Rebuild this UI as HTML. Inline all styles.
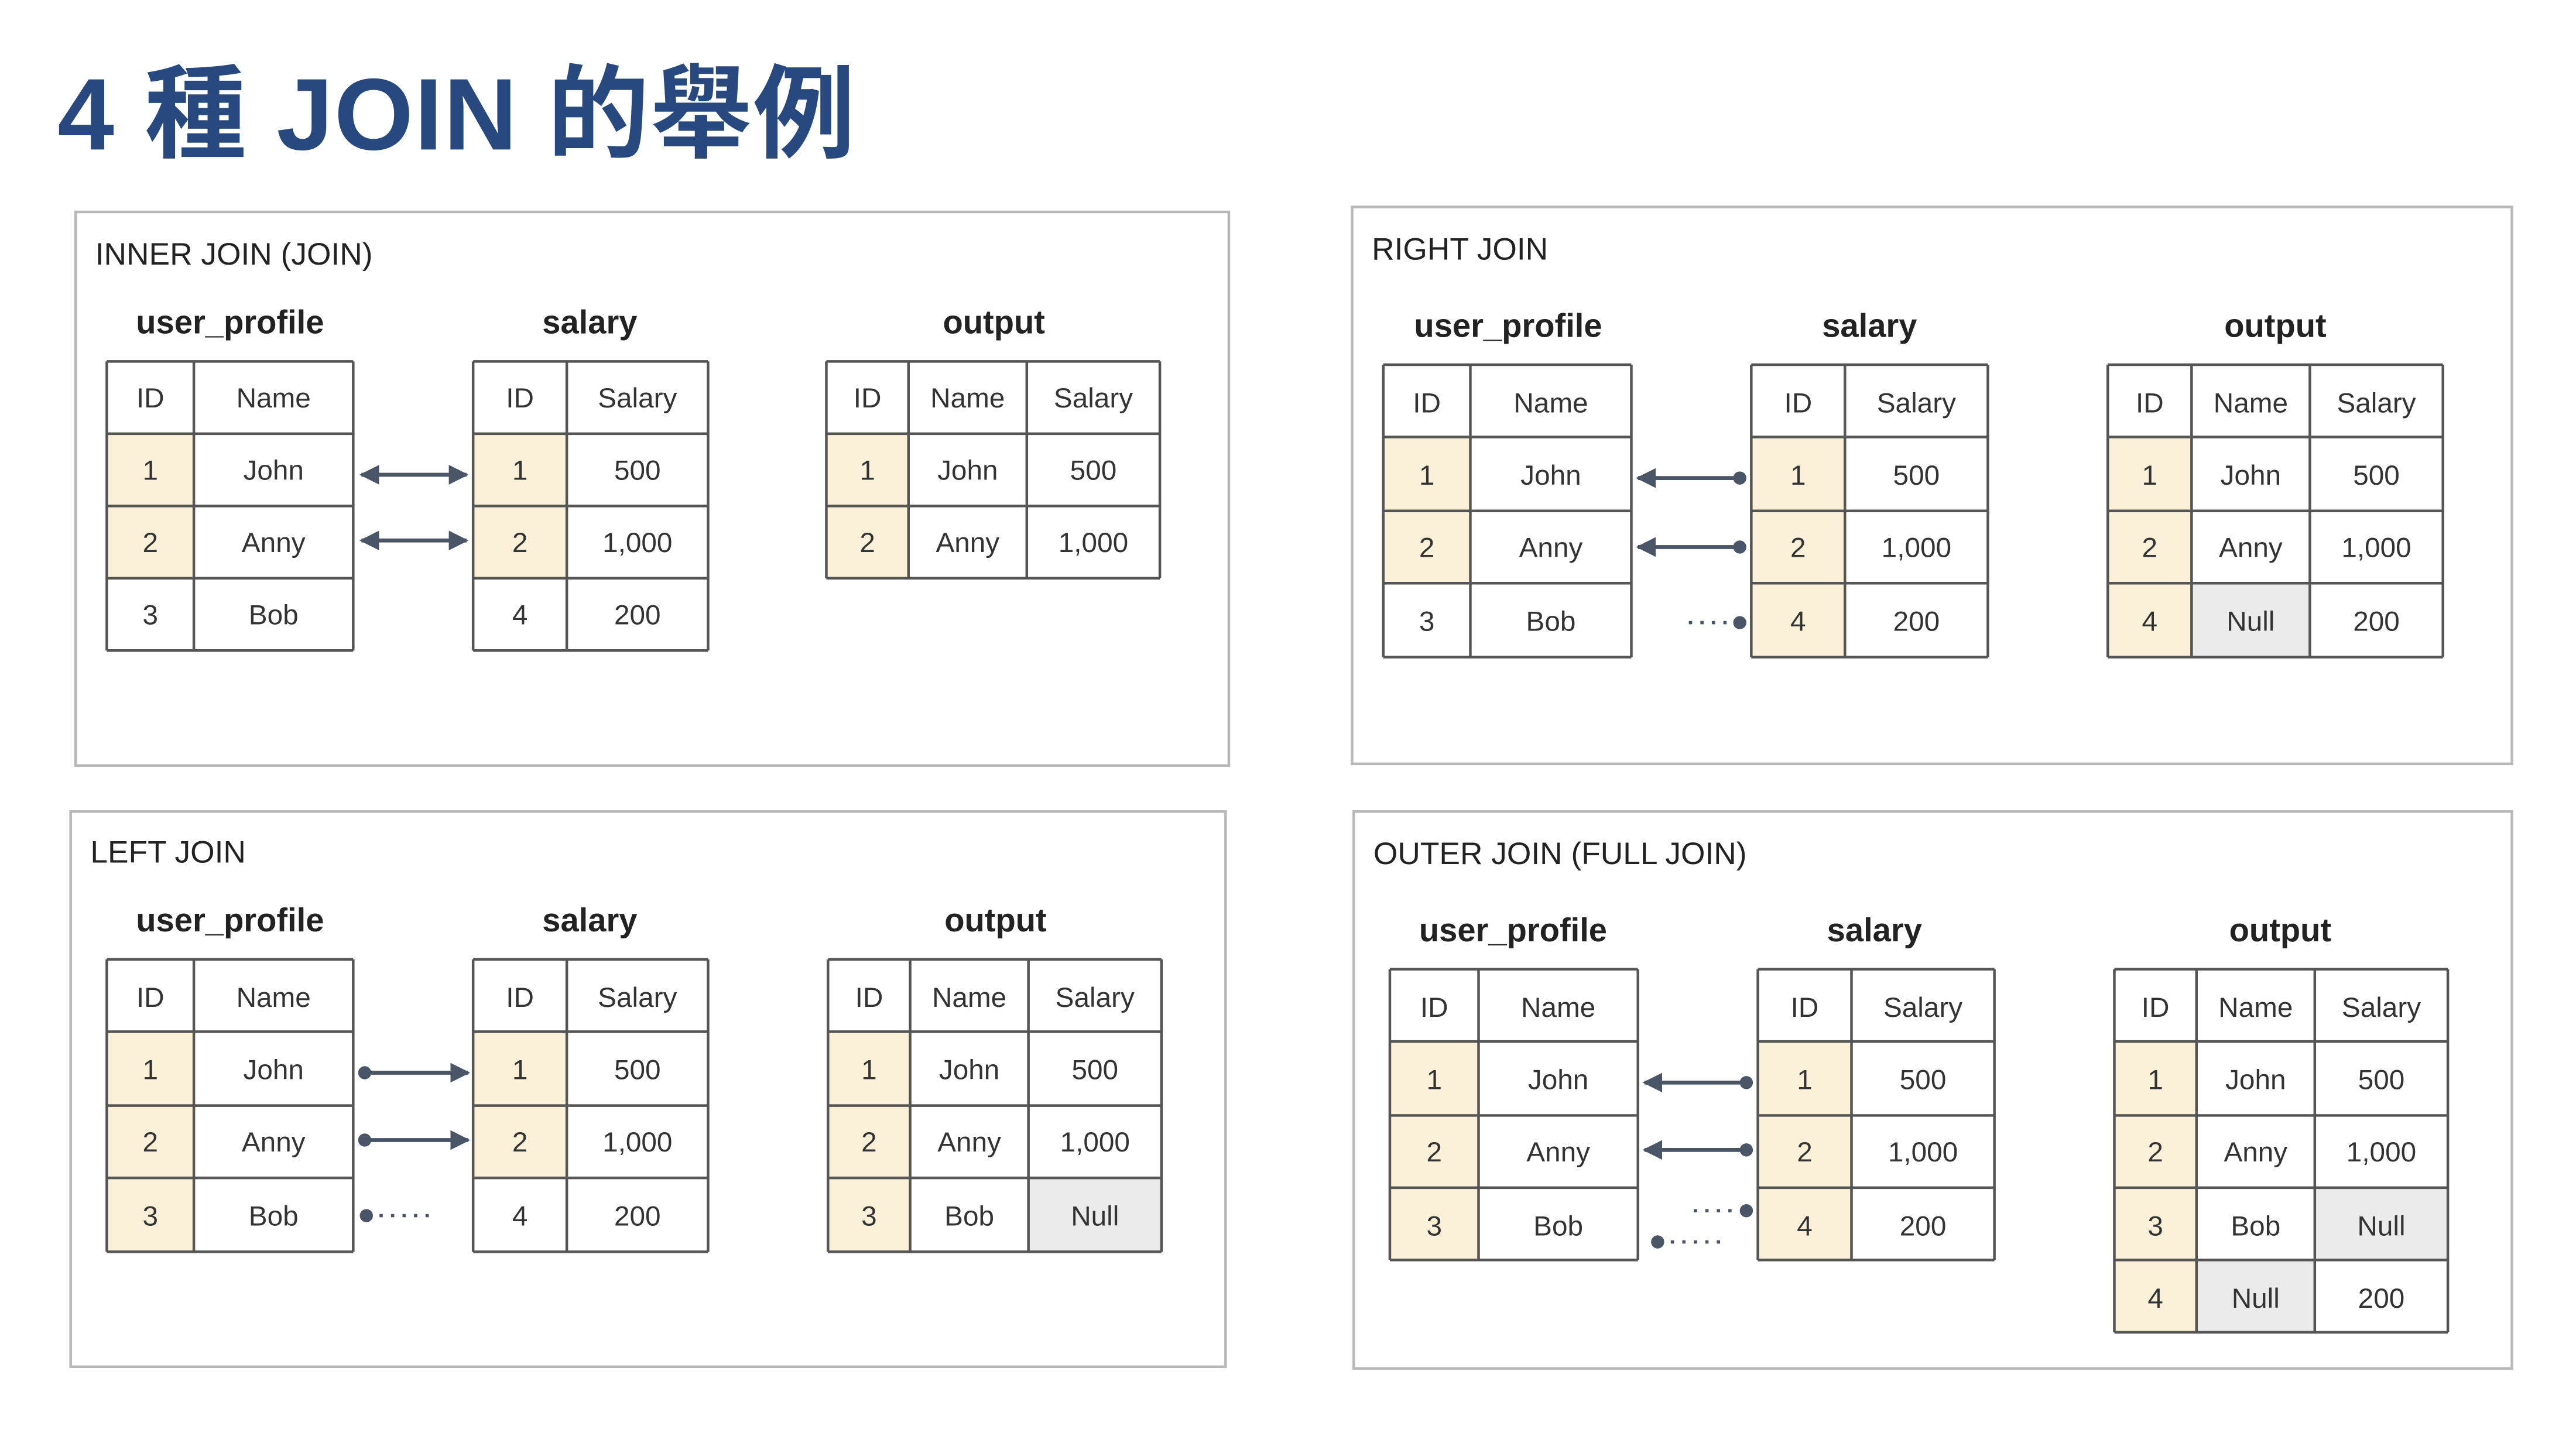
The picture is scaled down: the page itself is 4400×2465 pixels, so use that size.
<!DOCTYPE html>
<html><head><meta charset="utf-8"><style>
html,body{margin:0;padding:0;background:#fff;}
svg{display:block}
.c{font-family:"Liberation Sans",sans-serif;font-size:17px;fill:#333;text-anchor:middle}
.h{font-family:"Liberation Sans",sans-serif;font-size:20px;font-weight:bold;fill:#222;text-anchor:middle}
.l{font-family:"Liberation Sans",sans-serif;font-size:19px;fill:#222}
.g{stroke:#555;stroke-width:1.6;fill:none}
.p{stroke:#b8b8b8;stroke-width:1.6;fill:none}
.a{stroke:#4a5568;stroke-width:2.4;fill:none}
.d{stroke:#4a5568;stroke-width:2;stroke-dasharray:2 5;fill:none}
.y{fill:#fbf0d8}.n{fill:#ebebeb}
</style></head><body>
<svg width="4400" height="2465" viewBox="0 0 1568 878.4" preserveAspectRatio="none" xmlns="http://www.w3.org/2000/svg">
<defs>
<marker id="ar" viewBox="0 0 10 10" refX="9" refY="5" markerWidth="5" markerHeight="5" orient="auto-start-reverse"><path d="M0,0 L10,5 L0,10 z" fill="#4a5568"/></marker>
</defs>
<rect width="1568" height="878.4" fill="#fff"/>
<text x="35" y="91" style="font-family:'Liberation Sans','Noto Sans CJK TC',sans-serif;font-size:62px;font-weight:bold;fill:#27497f;letter-spacing:0.6px">4 種 JOIN 的舉例</text>

<!-- panels -->
<rect class="p" x="46" y="129" width="702" height="337"/>
<rect class="p" x="823" y="126" width="706" height="339"/>
<rect class="p" x="43" y="494" width="703" height="338"/>
<rect class="p" x="824" y="494" width="705" height="339"/>
<text class="l" x="58" y="161">INNER JOIN (JOIN)</text>
<text class="l" x="835" y="158">RIGHT JOIN</text>
<text class="l" x="55" y="525">LEFT JOIN</text>
<text class="l" x="836" y="526">OUTER JOIN (FULL JOIN)</text>

<!-- ===== INNER ===== -->
<text class="h" x="140" y="203">user_profile</text><text class="h" x="359" y="203">salary</text><text class="h" x="605" y="203">output</text>
<rect class="y" x="65" y="264" width="53" height="88"/>
<rect class="y" x="288" y="264" width="57" height="88"/>
<rect class="y" x="503" y="264" width="50" height="88"/>
<path class="g" d="M65,220H215M65,264H215M65,308H215M65,352H215M65,396H215M65,220V396M118,220V396M215,220V396"/>
<path class="g" d="M288,220H431M288,264H431M288,308H431M288,352H431M288,396H431M288,220V396M345,220V396M431,220V396"/>
<path class="g" d="M503,220H706M503,264H706M503,308H706M503,352H706M503,220V352M553,220V352M625,220V352M706,220V352"/>
<g class="c">
<text x="91.5" y="248">ID</text><text x="166.5" y="248">Name</text>
<text x="91.5" y="292">1</text><text x="166.5" y="292">John</text>
<text x="91.5" y="336">2</text><text x="166.5" y="336">Anny</text>
<text x="91.5" y="380">3</text><text x="166.5" y="380">Bob</text>
<text x="316.5" y="248">ID</text><text x="388" y="248">Salary</text>
<text x="316.5" y="292">1</text><text x="388" y="292">500</text>
<text x="316.5" y="336">2</text><text x="388" y="336">1,000</text>
<text x="316.5" y="380">4</text><text x="388" y="380">200</text>
<text x="528" y="248">ID</text><text x="589" y="248">Name</text><text x="665.5" y="248">Salary</text>
<text x="528" y="292">1</text><text x="589" y="292">John</text><text x="665.5" y="292">500</text>
<text x="528" y="336">2</text><text x="589" y="336">Anny</text><text x="665.5" y="336">1,000</text>
</g>
<line class="a" x1="220" y1="289" x2="284" y2="289" marker-start="url(#ar)" marker-end="url(#ar)"/>
<line class="a" x1="220" y1="329" x2="284" y2="329" marker-start="url(#ar)" marker-end="url(#ar)"/>

<!-- ===== RIGHT ===== -->
<text class="h" x="918" y="205">user_profile</text><text class="h" x="1138" y="205">salary</text><text class="h" x="1385" y="205">output</text>
<rect class="y" x="842" y="266" width="53" height="89"/>
<rect class="y" x="1066" y="266" width="57" height="134"/>
<rect class="y" x="1283" y="266" width="51" height="134"/>
<rect class="n" x="1334" y="355" width="72" height="45"/>
<path class="g" d="M842,222H993M842,266H993M842,311H993M842,355H993M842,400H993M842,222V400M895,222V400M993,222V400"/>
<path class="g" d="M1066,222H1210M1066,266H1210M1066,311H1210M1066,355H1210M1066,400H1210M1066,222V400M1123,222V400M1210,222V400"/>
<path class="g" d="M1283,222H1487M1283,266H1487M1283,311H1487M1283,355H1487M1283,400H1487M1283,222V400M1334,222V400M1406,222V400M1487,222V400"/>
<g class="c">
<text x="868.5" y="251">ID</text><text x="944" y="251">Name</text>
<text x="868.5" y="295">1</text><text x="944" y="295">John</text>
<text x="868.5" y="339">2</text><text x="944" y="339">Anny</text>
<text x="868.5" y="384">3</text><text x="944" y="384">Bob</text>
<text x="1094.5" y="251">ID</text><text x="1166.5" y="251">Salary</text>
<text x="1094.5" y="295">1</text><text x="1166.5" y="295">500</text>
<text x="1094.5" y="339">2</text><text x="1166.5" y="339">1,000</text>
<text x="1094.5" y="384">4</text><text x="1166.5" y="384">200</text>
<text x="1308.5" y="251">ID</text><text x="1370" y="251">Name</text><text x="1446.5" y="251">Salary</text>
<text x="1308.5" y="295">1</text><text x="1370" y="295">John</text><text x="1446.5" y="295">500</text>
<text x="1308.5" y="339">2</text><text x="1370" y="339">Anny</text><text x="1446.5" y="339">1,000</text>
<text x="1308.5" y="384">4</text><text x="1370" y="384">Null</text><text x="1446.5" y="384">200</text>
</g>
<line class="a" x1="1059" y1="291" x2="997" y2="291" marker-end="url(#ar)"/><circle cx="1059" cy="291" r="4" fill="#4a5568"/>
<line class="a" x1="1059" y1="333" x2="997" y2="333" marker-end="url(#ar)"/><circle cx="1059" cy="333" r="4" fill="#4a5568"/>
<line class="d" x1="1028" y1="379" x2="1055" y2="379"/><circle cx="1059" cy="379" r="4" fill="#4a5568"/>

<!-- ===== LEFT ===== -->
<text class="h" x="140" y="567">user_profile</text><text class="h" x="359" y="567">salary</text><text class="h" x="606" y="567">output</text>
<rect class="y" x="65" y="628" width="53" height="134"/>
<rect class="y" x="288" y="628" width="57" height="89"/>
<rect class="y" x="504" y="628" width="50" height="134"/>
<rect class="n" x="626" y="717" width="81" height="45"/>
<path class="g" d="M65,584H215M65,628H215M65,673H215M65,717H215M65,762H215M65,584V762M118,584V762M215,584V762"/>
<path class="g" d="M288,584H431M288,628H431M288,673H431M288,717H431M288,762H431M288,584V762M345,584V762M431,584V762"/>
<path class="g" d="M504,584H707M504,628H707M504,673H707M504,717H707M504,762H707M504,584V762M554,584V762M626,584V762M707,584V762"/>
<g class="c">
<text x="91.5" y="613">ID</text><text x="166.5" y="613">Name</text>
<text x="91.5" y="657">1</text><text x="166.5" y="657">John</text>
<text x="91.5" y="701">2</text><text x="166.5" y="701">Anny</text>
<text x="91.5" y="746">3</text><text x="166.5" y="746">Bob</text>
<text x="316.5" y="613">ID</text><text x="388" y="613">Salary</text>
<text x="316.5" y="657">1</text><text x="388" y="657">500</text>
<text x="316.5" y="701">2</text><text x="388" y="701">1,000</text>
<text x="316.5" y="746">4</text><text x="388" y="746">200</text>
<text x="529" y="613">ID</text><text x="590" y="613">Name</text><text x="666.5" y="613">Salary</text>
<text x="529" y="657">1</text><text x="590" y="657">John</text><text x="666.5" y="657">500</text>
<text x="529" y="701">2</text><text x="590" y="701">Anny</text><text x="666.5" y="701">1,000</text>
<text x="529" y="746">3</text><text x="590" y="746">Bob</text><text x="666.5" y="746">Null</text>
</g>
<line class="a" x1="222" y1="653" x2="285" y2="653" marker-end="url(#ar)"/><circle cx="222" cy="653" r="4" fill="#4a5568"/>
<line class="a" x1="222" y1="694" x2="285" y2="694" marker-end="url(#ar)"/><circle cx="222" cy="694" r="4" fill="#4a5568"/>
<circle cx="223" cy="740" r="4" fill="#4a5568"/><line class="d" x1="231" y1="740" x2="266" y2="740"/>

<!-- ===== OUTER ===== -->
<text class="h" x="921" y="573">user_profile</text><text class="h" x="1141" y="573">salary</text><text class="h" x="1388" y="573">output</text>
<rect class="y" x="846" y="634" width="54" height="133"/>
<rect class="y" x="1070" y="634" width="57" height="133"/>
<rect class="y" x="1287" y="634" width="50" height="177"/>
<rect class="n" x="1409" y="723" width="81" height="44"/>
<rect class="n" x="1337" y="767" width="72" height="44"/>
<path class="g" d="M846,590H997M846,634H997M846,679H997M846,723H997M846,767H997M846,590V767M900,590V767M997,590V767"/>
<path class="g" d="M1070,590H1214M1070,634H1214M1070,679H1214M1070,723H1214M1070,767H1214M1070,590V767M1127,590V767M1214,590V767"/>
<path class="g" d="M1287,590H1490M1287,634H1490M1287,679H1490M1287,723H1490M1287,767H1490M1287,811H1490M1287,590V811M1337,590V811M1409,590V811M1490,590V811"/>
<g class="c">
<text x="873" y="619">ID</text><text x="948.5" y="619">Name</text>
<text x="873" y="663">1</text><text x="948.5" y="663">John</text>
<text x="873" y="707">2</text><text x="948.5" y="707">Anny</text>
<text x="873" y="752">3</text><text x="948.5" y="752">Bob</text>
<text x="1098.5" y="619">ID</text><text x="1170.5" y="619">Salary</text>
<text x="1098.5" y="663">1</text><text x="1170.5" y="663">500</text>
<text x="1098.5" y="707">2</text><text x="1170.5" y="707">1,000</text>
<text x="1098.5" y="752">4</text><text x="1170.5" y="752">200</text>
<text x="1312" y="619">ID</text><text x="1373" y="619">Name</text><text x="1449.5" y="619">Salary</text>
<text x="1312" y="663">1</text><text x="1373" y="663">John</text><text x="1449.5" y="663">500</text>
<text x="1312" y="707">2</text><text x="1373" y="707">Anny</text><text x="1449.5" y="707">1,000</text>
<text x="1312" y="752">3</text><text x="1373" y="752">Bob</text><text x="1449.5" y="752">Null</text>
<text x="1312" y="796">4</text><text x="1373" y="796">Null</text><text x="1449.5" y="796">200</text>
</g>
<line class="a" x1="1063" y1="659" x2="1001" y2="659" marker-end="url(#ar)"/><circle cx="1063" cy="659" r="4" fill="#4a5568"/>
<line class="a" x1="1063" y1="700" x2="1001" y2="700" marker-end="url(#ar)"/><circle cx="1063" cy="700" r="4" fill="#4a5568"/>
<line class="d" x1="1031" y1="737" x2="1058" y2="737"/><circle cx="1063" cy="737" r="4" fill="#4a5568"/>
<circle cx="1009" cy="756" r="4" fill="#4a5568"/><line class="d" x1="1017" y1="756" x2="1052" y2="756"/>
</svg>
</body></html>
